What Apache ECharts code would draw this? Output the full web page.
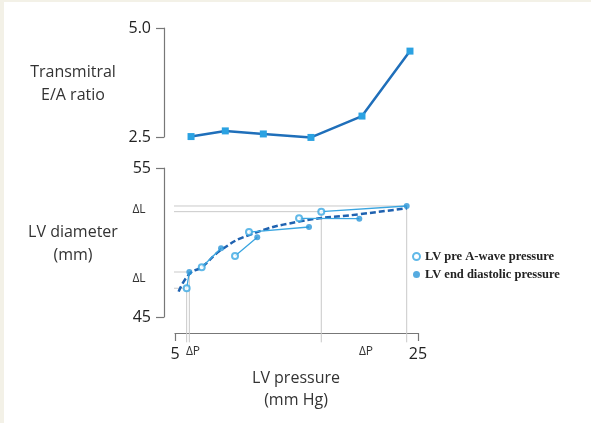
<!DOCTYPE html>
<html>
<head>
<meta charset="utf-8">
<script src="https://cdn.jsdelivr.net/npm/echarts@6/dist/echarts.min.js"></script>
<style>
  html, body { margin: 0; padding: 0; background: #fff; }
  #main { width: 591px; height: 423px; }
</style>
</head>
<body>
<div id="main"></div>
<script>
// top panel: transmitral E/A ratio (x placed on the pressure scale)
const eaX = [6.32, 9.14, 12.27, 16.19, 20.39, 24.34];
const eaRatio = [2.51, 2.64, 2.57, 2.49, 2.98, 4.47];

// bottom panel: each beat = pre A-wave point -> end diastolic point
const preAPressure = [5.96, 7.2, 9.94, 11.09, 15.21, 17.04];
const preADiameter = [46.93, 48.34, 49.09, 50.7, 51.62, 52.07];
const edPressure = [6.18, 8.79, 11.77, 16.03, 20.17, 24.07];
const edDiameter = [48.02, 49.61, 50.35, 51.04, 51.6, 52.45];

// dashed fitted curve
const fitPressure = [5.3, 6.2, 7.2, 8.8, 11.1, 15.2, 20.2, 24.1];
const fitDiameter = [46.7, 47.9, 48.35, 49.5, 50.5, 51.4, 51.9, 52.3];

const xTicks = [5, 25];
const diamTicks = [45, 55];
const eaTicks = [2.5, 5.0];

var myChart = echarts.init(document.getElementById('main'));

const font = 'Open Sans';
const grey = '#c9c9c9';
const leftEnd = 3.2;    // where the guide lines stop on the left
const bottomEnd = 43.3; // where the guide lines stop below the axis

// pair segments, broken with '-'
const pairs = [];
preAPressure.forEach(function (p, i) {
  pairs.push([p, preADiameter[i]]);
  pairs.push([edPressure[i], edDiameter[i]]);
  pairs.push('-');
});

// guide lines for the first and last beat
const guides = [];
[0, 5].forEach(function (i) {
  guides.push([leftEnd, preADiameter[i]], [preAPressure[i], preADiameter[i]], [preAPressure[i], bottomEnd], '-');
  guides.push([leftEnd, edDiameter[i]], [edPressure[i], edDiameter[i]], [edPressure[i], bottomEnd], '-');
});

function axisBase(ticks, fmt) {
  return {
    type: 'value',
    min: ticks[0],
    max: ticks[1],
    interval: ticks[1] - ticks[0],
    splitLine: { show: false },
    axisLine: { show: true, lineStyle: { color: '#777', width: 1.2 } },
    axisTick: { show: true, length: 8, lineStyle: { color: '#777', width: 1.2 } },
    axisLabel: { color: '#222', fontFamily: font, fontSize: 16, margin: 13, formatter: fmt }
  };
}

const dText = { font: '12px "Open Sans"', fill: '#333', align: 'center', verticalAlign: 'middle' };

myChart.setOption({
  animation: false,
  backgroundColor: '#fff',
  grid: [
    { left: 175, right: 173, top: 28, height: 109 },
    { left: 175, right: 173, top: 168, bottom: 106 }
  ],
  xAxis: [
    Object.assign(axisBase(xTicks), { gridIndex: 0, show: false }),
    Object.assign(axisBase(xTicks), { gridIndex: 1, offset: 16 })
  ],
  yAxis: [
    Object.assign(axisBase(eaTicks, function (v) { return v.toFixed(1); }), { gridIndex: 0, offset: 11 }),
    Object.assign(axisBase(diamTicks), { gridIndex: 1, offset: 11 })
  ],
  legend: {
    left: 407,
    top: 245,
    orient: 'vertical',
    itemWidth: 7,
    itemHeight: 7,
    itemGap: 5,
    data: ['LV pre A-wave pressure', 'LV end diastolic pressure'],
    textStyle: { fontFamily: 'Liberation Serif', fontWeight: 'bold', fontSize: 12.5, color: '#222' }
  },
  graphic: [
    { type: 'rect', shape: { x: 0, y: 0, width: 4, height: 423 }, style: { fill: '#f3f1e7' } },
    { type: 'rect', shape: { x: 0, y: 0, width: 591, height: 2 }, style: { fill: '#f3f1e7' } },
    { type: 'text', x: 73, y: 84, style: { text: 'Transmitral\nE/A ratio', font: '16px "Open Sans"', fill: '#333', align: 'center', verticalAlign: 'middle', lineHeight: 23 } },
    { type: 'text', x: 73, y: 244, style: { text: 'LV diameter\n(mm)', font: '16px "Open Sans"', fill: '#333', align: 'center', verticalAlign: 'middle', lineHeight: 23 } },
    { type: 'text', x: 296, y: 389, style: { text: 'LV pressure\n(mm Hg)', font: '16px "Open Sans"', fill: '#333', align: 'center', verticalAlign: 'middle', lineHeight: 22 } },
    { type: 'text', x: 139, y: 210, style: Object.assign({ text: 'ΔL' }, dText) },
    { type: 'text', x: 139, y: 279, style: Object.assign({ text: 'ΔL' }, dText) },
    { type: 'text', x: 193, y: 352, style: Object.assign({ text: 'ΔP' }, dText) },
    { type: 'text', x: 366, y: 352, style: Object.assign({ text: 'ΔP' }, dText) }
  ],
  series: [
    {
      type: 'line',
      xAxisIndex: 0, yAxisIndex: 0,
      data: eaX.map(function (x, i) { return [x, eaRatio[i]]; }),
      symbol: 'rect',
      symbolSize: 7,
      showAllSymbol: true,
      clip: false,
      lineStyle: { color: '#1f6fba', width: 2.5 },
      itemStyle: { color: '#2ba2e2' }
    },
    {
      type: 'line',
      xAxisIndex: 1, yAxisIndex: 1,
      data: guides,
      clip: false,
      showSymbol: false,
      silent: true,
      lineStyle: { color: grey, width: 1 },
      markLine: {
        silent: true,
        symbol: ['arrow', 'arrow'],
        symbolSize: [4, 5],
        label: { show: false },
        lineStyle: { color: '#999', width: 0.8, type: 'solid' },
        data: [[{ coord: [17.9, 43.53] }, { coord: [23.5, 43.53] }]]
      }
    },
    {
      type: 'line',
      xAxisIndex: 1, yAxisIndex: 1,
      data: fitPressure.map(function (x, i) { return [x, fitDiameter[i]]; }),
      smooth: true,
      showSymbol: false,
      lineStyle: { color: '#1f62b0', width: 2.5, type: [6, 3] },
      z: 3
    },
    {
      type: 'line',
      xAxisIndex: 1, yAxisIndex: 1,
      data: pairs,
      showSymbol: false,
      lineStyle: { color: '#3aa5e0', width: 1.3 },
      z: 4
    },
    {
      name: 'LV pre A-wave pressure',
      type: 'scatter',
      xAxisIndex: 1, yAxisIndex: 1,
      data: preAPressure.map(function (x, i) { return [x, preADiameter[i]]; }),
      symbol: 'emptyCircle',
      symbolSize: 6,
      itemStyle: { color: '#3aa8e2', borderWidth: 1.2 },
      z: 5
    },
    {
      name: 'LV end diastolic pressure',
      type: 'scatter',
      xAxisIndex: 1, yAxisIndex: 1,
      data: edPressure.map(function (x, i) { return [x, edDiameter[i]]; }),
      symbol: 'circle',
      symbolSize: 6,
      itemStyle: { color: '#2c96d8' },
      z: 5
    }
  ]
});
</script>
</body>
</html>
